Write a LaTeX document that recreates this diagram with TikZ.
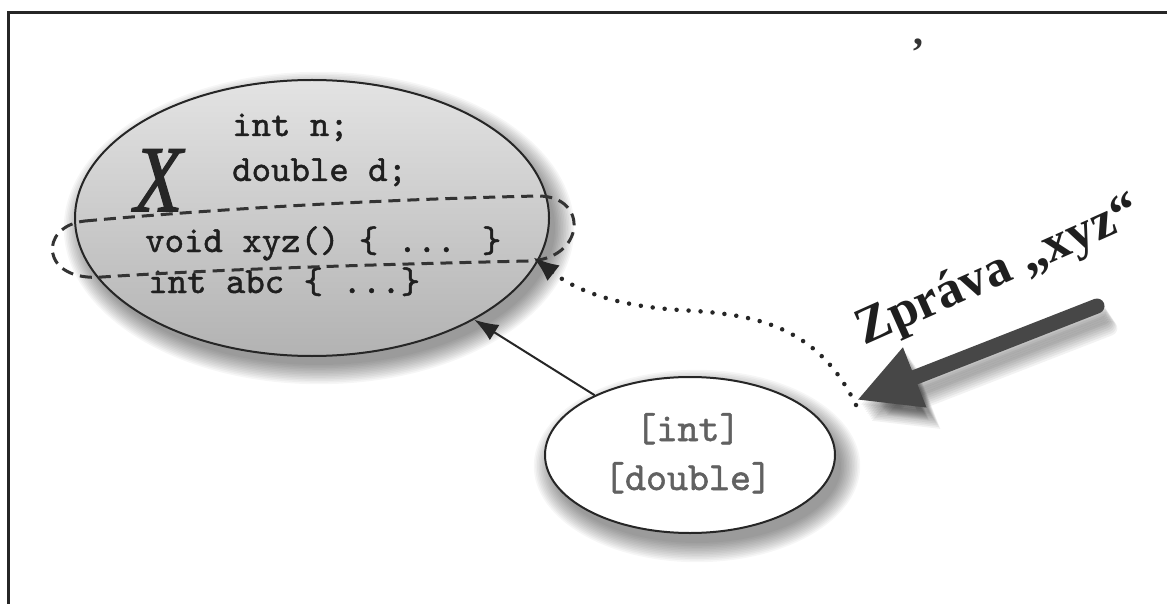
\documentclass[tikz,border=0pt]{standalone}
\usepackage{fontspec}
\newfontfamily\timesf{Liberation Serif}
\newfontfamily\xfont{Liberation Serif}[FakeBold=1.6]
\newfontfamily\codefont{lmmono10-regular.otf}[FakeBold=1.3]
\usetikzlibrary{arrows.meta,shapes.geometric,calc}
\tikzset{
  frame/.style={line width=3pt, black!85},
  codetext/.style={inner sep=0pt, anchor=base west, font=\codefont\fontsize{37}{37}\selectfont, text=black!88},
  argtext/.style={inner sep=0pt, anchor=base, font=\codefont\fontsize{40}{40}\selectfont, text=black!62},
  bigell/.style={draw=black!85, line width=2pt, ellipse, minimum width=474pt, minimum height=276pt, inner sep=0pt, top color=black!11, bottom color=black!30},
  smallell/.style={draw=black!85, line width=2pt, ellipse, minimum width=290pt, minimum height=156pt, inner sep=0pt, fill=white},
  band/.style={dash pattern=on 12pt off 7pt, line width=3pt, black!80},
  conn/.style={line width=2pt, black!85, -{Latex[length=24pt,width=18pt]}},
  dotconn/.style={line width=4.5pt, black!85, line cap=round, dash pattern=on 0pt off 12pt, -{Latex[length=26pt,width=20pt]}},
  bigarrow/.style={line width=15pt, black!72, line cap=round, -{Triangle[length=62pt,width=60pt]}},
  arrowshadow/.style={line width=15pt, black, opacity=0.05, line cap=round, -{Triangle[length=62pt,width=60pt]}},
  shade/.style={black, opacity=0.035},
}
\begin{document}
\begin{tikzpicture}[x=1pt,y=-1pt]
\useasboundingbox (0,0) rectangle (1167,604);
\fill[white] (0,0) rectangle (1167,604);
% frame
\draw[frame] (8,604) -- (8,13) -- (1167,13);
% shadows
\foreach \i in {0,...,12} {
  \fill[shade] (319,228) ellipse [x radius={236+1.6*\i}, y radius={137+1.6*\i}];
  \fill[shade] (697,466) ellipse [x radius={144+1.6*\i}, y radius={77+1.6*\i}];
}
\coordinate (bT) at (1097,306);
\coordinate (bH) at (857,400);
\foreach \i in {0,...,9} {
  \draw[arrowshadow] ($(bT)+({2+1.2*\i},{6+1.8*\i})$) -- ($(bH)+({3+1.2*\i},{5+1.8*\i})$);
}
% ellipses
\node[bigell] (X) at (312,218) {};
\node[smallell] (S) at (690,455) {};
% texts in big ellipse
\node[inner sep=0pt, anchor=base west, font=\xfont\itshape\fontsize{94}{94}\selectfont, text=black!85] (xl) at (134,211) {\scalebox{0.84}[1]{X}};
\node[codetext] (t1) at (232,136) {int n;};
\node[codetext] (t2) at (232,181) {double d;};
\node[codetext] (t3) at (145,252) {void xyz() \{ ... \}};
\node[codetext] (t4) at (148,293) {int abc \{ ...\}};
% dashed band
\draw[band] (85,221) .. controls (240,207) and (400,199) .. (538,196)
  .. controls (590,196) and (585,260) .. (528,261)
  .. controls (400,264) and (240,268) .. (102,277)
  .. controls (40,282) and (38,226) .. (85,221);
% small ellipse texts
\node[argtext] (a1) at (688,441) {[int]};
\node[argtext] (a2) at (688,490) {[double]};
% connectors
\draw[conn] (S) -- (X);
\coordinate (dS) at (856,405);
\coordinate (dE) at (533,257);
\draw[dotconn] (dS) .. controls (815,320) and (745,314) .. (680,310)
  .. controls (615,306) and (575,290) .. (dE);
\draw[bigarrow] (bT) -- (bH);
% label
\node[inner sep=0pt, anchor=base, rotate=24, font=\timesf\bfseries\fontsize{52}{52}\selectfont, text=black!88] (msg) at (1004,284) {Zpráva „xyz“};
\node[inner sep=0pt, font=\timesf\bfseries\fontsize{40}{40}\selectfont, text=black!80] (tick) at (918,52) {’};
\end{tikzpicture}
\end{document}
